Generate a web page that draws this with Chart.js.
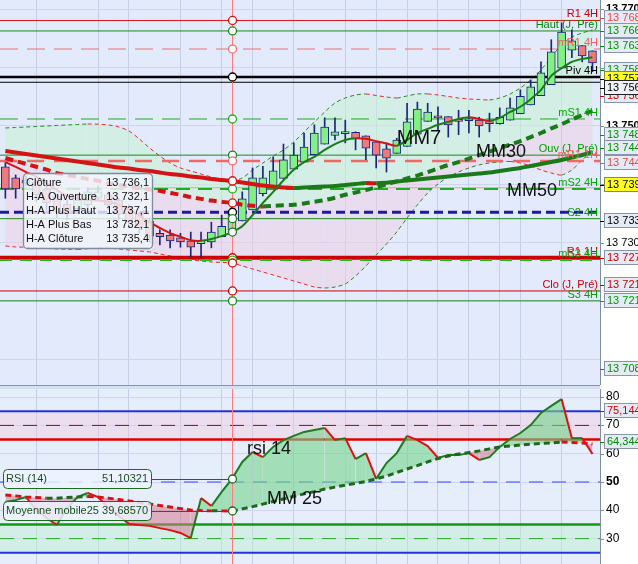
<!DOCTYPE html>
<html>
<head>
<meta charset="utf-8">
<script src="https://cdn.jsdelivr.net/npm/chart.js@4.4.0/dist/chart.umd.min.js"></script>
<style>
  body { margin: 0; background: #fff; width: 638px; height: 564px; overflow: hidden; position: relative; }
  #main { position: absolute; left: 0; top: 0; }
  #rsi { position: absolute; left: 0; top: 389px; }
  #gap { position: absolute; left: 0; top: 385px; width: 600px; height: 4px; background: #d6dff2;
         border-top: 1px solid #8795a8; box-sizing: border-box; }
</style>
</head>
<body>
<div id="gap"></div>
<canvas id="main" width="638" height="385"></canvas>
<canvas id="rsi" width="638" height="175"></canvas>
<script>
// ---- data (Heikin-Ashi candles, 4H) ----
const haOpen = [13743.0, 13741.1, 13740.2, 13740.4, 13739.2, 13738.0, 13736.6, 13735.8, 13736.5, 13737.6,
  13738.2, 13737.3, 13736.1, 13734.9, 13733.7, 13731.6, 13731.3, 13730.8, 13730.3, 13729.8,
  13730.1, 13731.0, 13732.1, 13733.7, 13735.6, 13738.4, 13739.7, 13741.0, 13742.6, 13743.8,
  13745.1, 13746.9, 13748.4, 13748.7, 13748.9, 13748.3, 13747.3, 13746.1, 13745.3, 13746.5,
  13748.6, 13750.8, 13751.6, 13751.6, 13750.9, 13750.9, 13751.0, 13750.5, 13750.4, 13751.0,
  13752.1, 13753.6, 13755.2, 13757.1, 13759.9, 13763.0, 13763.8, 13762.9];
const haHigh = [13743.7, 13741.6, 13741.4, 13740.7, 13739.7, 13738.3, 13737.3, 13738.2, 13739.4, 13739.7,
  13738.7, 13737.6, 13736.5, 13735.2, 13734.2, 13732.2, 13732.2, 13731.6, 13731.8, 13731.8,
  13733.5, 13734.7, 13737.1, 13738.7, 13742.8, 13743.1, 13744.7, 13746.9, 13747.1, 13748.8,
  13750.2, 13751.4, 13751.4, 13751.0, 13749.0, 13748.3, 13747.3, 13747.1, 13747.9, 13753.9,
  13754.1, 13753.9, 13753.3, 13751.6, 13752.7, 13752.7, 13751.5, 13752.2, 13753.1, 13754.8,
  13756.2, 13757.9, 13761.0, 13764.8, 13767.7, 13766.5, 13763.8, 13762.9];
const haLow = [13737.6, 13737.6, 13739.7, 13737.0, 13735.6, 13734.2, 13733.9, 13735.1, 13735.9, 13737.3,
  13735.6, 13733.9, 13732.5, 13731.6, 13730.1, 13729.6, 13729.1, 13729.2, 13727.5, 13727.4,
  13729.1, 13731.0, 13732.1, 13733.7, 13735.6, 13738.0, 13739.7, 13741.0, 13742.6, 13743.8,
  13745.1, 13746.9, 13747.6, 13747.1, 13745.9, 13744.2, 13742.8, 13742.1, 13745.3, 13746.5,
  13748.6, 13750.8, 13749.3, 13748.1, 13748.5, 13748.8, 13748.1, 13749.0, 13750.3, 13751.0,
  13752.1, 13753.6, 13755.2, 13757.1, 13759.9, 13761.7, 13761.0, 13759.3];
const haClose = [13739.2, 13739.2, 13740.7, 13738.2, 13736.8, 13735.2, 13734.9, 13737.3, 13738.7, 13738.7,
  13736.5, 13734.9, 13733.5, 13732.5, 13731.1, 13731.0, 13730.3, 13730.1, 13729.2, 13730.4,
  13731.8, 13732.8, 13735.4, 13737.5, 13741.1, 13741.1, 13742.3, 13744.2, 13745.0, 13746.4,
  13748.8, 13749.8, 13749.0, 13749.0, 13747.8, 13746.2, 13745.0, 13744.5, 13747.6, 13750.7,
  13752.9, 13752.4, 13751.4, 13750.2, 13750.8, 13751.2, 13750.0, 13750.4, 13751.5, 13753.1,
  13755.1, 13756.7, 13759.1, 13762.7, 13766.1, 13764.6, 13762.0, 13760.8];

const mm7 = [13743.8, 13743.0, 13742.1, 13741.3, 13740.2, 13739.0, 13738.0, 13737.5, 13737.3, 13737.2,
  13737.0, 13736.5, 13735.6, 13734.6, 13733.5, 13732.5, 13731.6, 13731.0, 13730.4, 13730.3,
  13730.6, 13731.1, 13731.8, 13732.8, 13734.7, 13736.8, 13738.7, 13740.7, 13742.5, 13743.8,
  13744.7, 13745.9, 13746.9, 13747.6, 13747.9, 13747.8, 13747.4, 13747.0, 13746.6, 13747.6,
  13748.8, 13749.5, 13750.2, 13750.7, 13751.2, 13751.5, 13751.2, 13750.9, 13751.4, 13752.4,
  13753.3, 13754.6, 13756.2, 13758.6, 13759.9, 13761.0, 13761.5, 13761.8];
const mm30 = [13744.5, 13744.0, 13743.5, 13743.0, 13742.5, 13741.9, 13741.6, 13741.3, 13740.9, 13740.6,
  13740.2, 13739.9, 13739.6, 13739.4, 13739.1, 13738.9, 13738.5, 13738.2, 13737.8, 13737.5,
  13737.2, 13737.0, 13736.8, 13736.5, 13736.3, 13736.2, 13736.3, 13736.4, 13736.5, 13736.7,
  13737.0, 13737.3, 13737.7, 13738.2, 13738.6, 13739.0, 13739.5, 13740.0, 13740.5, 13741.0,
  13741.5, 13742.1, 13742.7, 13743.3, 13743.8, 13744.4, 13745.0, 13745.6, 13746.2, 13746.8,
  13747.4, 13748.1, 13748.8, 13749.6, 13750.3, 13751.1, 13751.9, 13752.6];
const mm50 = [13745.71, 13745.45, 13745.20, 13744.94, 13744.68, 13744.43, 13744.17, 13743.91, 13743.65, 13743.40,
  13743.14, 13742.88, 13742.71, 13742.45, 13742.28, 13742.02, 13741.77, 13741.59, 13741.34, 13741.17,
  13740.91, 13740.74, 13740.57, 13740.31, 13740.05, 13739.79, 13739.62, 13739.45, 13739.37, 13739.45,
  13739.54, 13739.62, 13739.71, 13739.88, 13740.05, 13740.22, 13740.17, 13740.26, 13740.48, 13740.65,
  13740.82, 13740.99, 13741.17, 13741.34, 13741.51, 13741.68, 13741.85, 13742.02, 13742.28, 13742.54,
  13742.80, 13743.14, 13743.48, 13743.82, 13744.17, 13744.60, 13745.03, 13745.54];
const bbUp = [13749.66, 13749.74, 13749.83, 13749.91, 13750.00, 13750.09, 13750.17, 13750.26, 13750.34, 13750.30,
  13750.17, 13749.83, 13749.14, 13747.77, 13746.23, 13744.85, 13743.65, 13742.80, 13742.28, 13741.77,
  13741.25, 13740.82, 13740.57, 13741.08, 13742.45, 13743.65, 13744.85, 13745.88, 13747.26, 13748.97,
  13750.69, 13752.40, 13753.95, 13754.80, 13755.32, 13755.49, 13755.23, 13754.97, 13754.80, 13755.15,
  13755.49, 13755.50, 13755.32, 13755.06, 13754.80, 13754.63, 13754.55, 13754.46, 13754.80, 13755.49,
  13756.52, 13757.89, 13759.61, 13761.84, 13763.89, 13765.27, 13765.95, 13766.47];
const bbLow = [13729.42, 13729.25, 13729.20, 13729.07, 13729.00, 13728.90, 13728.85, 13728.82, 13728.95, 13729.07,
  13729.05, 13728.90, 13728.73, 13728.56, 13728.39, 13728.04, 13727.70, 13727.36, 13727.01, 13726.84,
  13726.67, 13726.59, 13726.50, 13725.99, 13725.47, 13724.96, 13724.44, 13723.93, 13723.41, 13722.90,
  13722.38, 13722.21, 13722.38, 13722.90, 13724.27, 13725.99, 13727.87, 13729.76, 13731.82, 13734.22,
  13736.45, 13738.51, 13740.05, 13741.25, 13742.11, 13742.80, 13743.31, 13743.65, 13743.82, 13743.91,
  13743.65, 13743.14, 13742.45, 13741.94, 13741.59, 13742.45, 13744.17, 13745.88];

const rsi14 = [42.9, 43.6, 44.7, 40.1, 37.3, 34.8, 40.8, 44.7, 46.1, 44.7,
  40.8, 38.0, 35.2, 34.8, 34.5, 33.7, 33.0, 32.0, 30.2, 44.3,
  41.5, 46.5, 51.10321, 57.1, 60.6, 58.8, 62.4, 64.8, 66.3, 67.7,
  68.4, 69.1, 64.8, 65.5, 58.1, 60.2, 51.1, 56.7, 60.2, 66.3,
  64.8, 62.7, 58.5, 59.5, 59.5, 60.2, 57.8, 58.8, 62.4, 65.2,
  67.3, 70.1, 74.4, 76.9, 79.3, 65.5, 65.5, 59.9];
const rsiMM25 = [45.4, 45.1, 44.7, 44.5, 44.3, 44.3, 44.5, 44.7, 44.9, 44.7,
  44.3, 43.8, 43.3, 42.8, 42.2, 41.7, 41.2, 40.6, 40.1, 39.9,
  39.8, 39.8, 39.6857, 40.5, 41.3, 42.2, 43.1, 44.0, 44.9, 45.8,
  46.6, 47.5, 48.2, 48.9, 49.5, 50.2, 51.1, 52.1, 53.4, 54.6,
  55.8, 57.1, 58.3, 59.2, 59.9, 60.4, 61.0, 61.7, 62.4, 62.7,
  63.1, 63.4, 63.6, 63.8, 64.1, 64.0, 63.8, 63.4];

const lastClose = 13736.1;
const crossIdx = 22;
const gridIdx = [3, 9, 12, 17, 21, 24, 28, 33, 36, 39, 42, 45, 48, 50, 54];
const priceGrid = [13770, 13760, 13750, 13740, 13730, 13720, 13710];
const priceTicks = [13770, 13760, 13750, 13740, 13730, 13720];
const rsiTicks = [80, 70, 60, 50, 40, 30];

// pivot levels
const levelNames = ['R1 4H', 'Haut (J, Pré)', 'mR1 4H', 'Piv 4H', '', 'mS1 4H', 'Ouv (J, Pré)', 'mR1 1H',
  '', 'mS2 4H', '', 'S2 4H', 'R1 1H', 'mS3 4H', 'Clo (J, Pré)', 'S3 4H'];
const levelValues = [13768.1, 13766.3, 13763.2, 13758.4, 13757.5, 13751.2, 13745.0, 13744.0,
  13739.4, 13739.2, 13735.2, 13734.1, 13727.4, 13727.0, 13721.7, 13720.0];

// price boxes on the right axis
const boxText = ['13 768', '13 766', '13 763', '13 758', '13 757', '13 756', '13 756', '13 748',
  '13 744', '13 744', '13 739', '13 733', '13 727', '13 721', '13 721', '13 708'];
const boxAt = [13768.6, 13766.3, 13763.8, 13759.6, 13758.1, 13755.1, 13756.5, 13748.5,
  13746.2, 13743.7, 13739.9, 13733.7, 13727.4, 13722.8, 13720.0, 13708.3];

const rsiLevels = [75, 70, 65, 50, 35, 30, 25];
const rsiBoxText = ['75,144', '64,344'];
const rsiBoxAt = [75.1, 64.3];

// ---- styles ----
const FONT = '"Liberation Sans", Arial, sans-serif';
const GREEN = '#1f7a1f', RED = '#d41414';
const levelColor = ['#dd1111', '#1a8a1a', '#f07070', '#000', '#000', '#22aa22', '#1a8a1a', '#f06868',
  '#f29a9a', '#22aa22', '#1a1aa8', '#1a8a1a', '#cc0000', '#22bb22', '#cc0000', '#1a8a1a'];
const levelWidth = [1, 1, 1, 2.5, 1, 1, 1, 2.5, 1, 2, 3, 1, 4, 2, 1, 1];
const levelDash = [[], [], [18, 9], [], [], [18, 9], [], [17, 10], [], [14, 8], [9, 5], [], [], [12, 8], [], []];
const levelText = ['#cc0000', '#008800', '#f06060', '#000', '', '#00aa00', '#00a000', '#f06060',
  '', '#00aa00', '', '#00a000', '#cc0000', '#00aa00', '#cc0000', '#00a000'];
const boxColor = ['#e84848', '#009000', '#009000', '#009000', '#000', '#d00000', '#000', '#009000',
  '#009000', '#e84848', '#000', '#000', '#d00000', '#d00000', '#00a000', '#009000'];
const rsiLevelColor = ['#2233dd', '#aa0000', '#dd0000', '#3344ff', '#119911', '#22aa22', '#2233dd'];
const rsiLevelWidth = [2, 1, 2.5, 1, 2.5, 1, 2];
const rsiLevelDash = [[], [14, 9], [], [14, 9], [], [14, 9], []];

const xMin = -0.52, xMax = 57.73;
const pts = arr => arr.map((v, i) => ({ x: i, y: v }));
const seg = (g, r) => ({ borderColor: c => (c.p1.parsed.y >= c.p0.parsed.y ? g : r) });
const dirColor = (arr, i) => (arr[i] >= arr[i - 1] ? GREEN : RED);
const fmt = (v, d) => {
  let [a, b] = v.toFixed(d).split('.');
  a = a.replace(/\B(?=(\d{3})+(?!\d))/g, ' ');
  return b ? a + ',' + b : a;
};

function xAxis() {
  return {
    type: 'linear', min: xMin, max: xMax, offset: false,
    ticks: { display: false },
    grid: { color: '#c4cee4', drawTicks: false, offset: false },
    border: { display: false },
    afterBuildTicks: s => { s.ticks = gridIdx.map(v => ({ value: v })); },
    afterFit: s => { s.height = 0; }
  };
}
function yAxis(min, max, ticks) {
  return {
    position: 'right', min, max,
    ticks: { display: false },
    grid: { color: '#cdd6ea', drawTicks: false },
    border: { display: true, color: '#7f8ea0' },
    afterBuildTicks: s => { s.ticks = ticks.map(v => ({ value: v })); },
    afterFit: s => { s.width = 38; }
  };
}
function circle(ctx, x, y, color) {
  ctx.beginPath();
  ctx.arc(x, y, 4, 0, Math.PI * 2);
  ctx.fillStyle = '#fff';
  ctx.fill();
  ctx.lineWidth = 1.3;
  ctx.strokeStyle = color;
  ctx.stroke();
}
function roundBox(ctx, x, y, w, h, r) {
  ctx.beginPath();
  ctx.roundRect(x, y, w, h, r);
}
function axisBox(ctx, y, text, color, fill, stroke) {
  const yy = Math.round(y);
  ctx.fillStyle = fill;
  ctx.fillRect(604.5, yy - 7.5, 40, 14);
  ctx.strokeStyle = stroke;
  ctx.lineWidth = 1;
  ctx.strokeRect(604.5, yy - 7.5, 40, 14);
  ctx.beginPath();
  ctx.moveTo(600, yy + 0.5);
  ctx.lineTo(604, yy + 0.5);
  ctx.strokeStyle = color;
  ctx.stroke();
  ctx.fillStyle = color;
  ctx.textAlign = 'left';
  ctx.textBaseline = 'middle';
  ctx.font = '11px ' + FONT;
  ctx.fillText(text, 607, yy);
}

// ---- main chart ----
const mainSets = [
  { label: 'MM30', data: pts(mm30), borderWidth: 4, borderDash: [8, 5], segment: seg('#1a7a1a', '#d41414'),
    pointRadius: 0, tension: 0.3, order: 30 },
  { label: 'BB haut', data: pts(bbUp), borderWidth: 1, borderDash: [4, 3], segment: seg('#2a8a2a', '#e03030'),
    pointRadius: 0, tension: 0.3, order: 100,
    fill: { target: 0, above: 'rgba(200,240,215,0.6)', below: 'rgba(200,240,215,0.6)' } },
  { label: 'BB bas', data: pts(bbLow), borderWidth: 1, borderDash: [4, 3], segment: seg('#2a8a2a', '#e03030'),
    pointRadius: 0, tension: 0.3, order: 99,
    fill: { target: 0, above: 'rgba(242,205,228,0.5)', below: 'rgba(242,205,228,0.5)' } },
  { label: 'MM50', data: pts(mm50), borderWidth: 4, segment: seg('#1a7a1a', '#d41414'),
    pointRadius: 0, tension: 0.3, order: 20 },
  { label: 'MM7', data: pts(mm7), borderWidth: 2, segment: seg('#1a7a1a', '#d41414'),
    pointRadius: 0, tension: 0.3, order: 10 },
  { type: 'bar', label: 'mèches', data: haLow.map((l, i) => ({ x: i, y: [l, haHigh[i]] })),
    backgroundColor: '#1c2580', barThickness: 1, grouped: false, order: 50 },
  { type: 'bar', label: 'H-A', data: haOpen.map((o, i) => ({ x: i, y: [o, haClose[i]] })),
    backgroundColor: c => (haClose[c.dataIndex] >= haOpen[c.dataIndex] ? '#84f084' : '#f07a7a'),
    borderColor: '#1c2580', borderWidth: 1, borderSkipped: false, barThickness: 8, minBarLength: 2,
    grouped: false, order: 40 }
];
levelValues.forEach((v, i) => {
  mainSets.push({ label: levelNames[i], data: [{ x: xMin, y: v }, { x: xMax, y: v }],
    borderColor: levelColor[i], borderWidth: levelWidth[i], borderDash: levelDash[i],
    pointRadius: 0, order: 90 - i });
});

const mainOverlay = {
  id: 'mainOverlay',
  beforeDraw(c) {
    const { ctx, chartArea: a } = c;
    ctx.save();
    ctx.fillStyle = '#e2eafb';
    ctx.fillRect(a.left, a.top, a.width, a.height);
    ctx.restore();
  },
  afterDraw(c) {
    const { ctx, chartArea: a, scales: { x, y } } = c;
    ctx.save();
    ctx.font = '11px ' + FONT;
    // level names
    ctx.textAlign = 'right';
    ctx.textBaseline = 'alphabetic';
    levelValues.forEach((v, i) => {
      if (!levelNames[i]) return;
      ctx.fillStyle = levelText[i];
      ctx.fillText(levelNames[i], a.right - 2, Math.round(y.getPixelForValue(v)) - 3);
    });
    // indicator names
    ctx.fillStyle = '#111';
    ctx.textAlign = 'left';
    ctx.font = '20px ' + FONT;
    ctx.fillText('MM7', x.getPixelForValue(38.0), y.getPixelForValue(13746.9));
    ctx.font = '18px ' + FONT;
    ctx.fillText('MM30', x.getPixelForValue(45.7), y.getPixelForValue(13744.7));
    ctx.fillText('MM50', x.getPixelForValue(48.7), y.getPixelForValue(13738.0));
    // axis ticks
    ctx.textBaseline = 'middle';
    priceTicks.forEach(v => {
      const py = Math.round(y.getPixelForValue(v));
      ctx.strokeStyle = '#7f8ea0';
      ctx.lineWidth = 1;
      ctx.beginPath(); ctx.moveTo(600, py + 0.5); ctx.lineTo(604, py + 0.5); ctx.stroke();
      ctx.fillStyle = '#000';
      ctx.font = (v === 13750 || v === 13770 ? 'bold ' : '') + '11px ' + FONT;
      ctx.fillText(fmt(v, 0), 606, py);
    });
    // price boxes
    boxText.forEach((t, i) => {
      let fill = '#e4ebf5', stroke = '#8796a8';
      if (t === '13 757' || t === '13 739') { fill = '#ffff22'; stroke = '#8a8a40'; }
      if (i === 6) { fill = '#eef2f8'; stroke = '#222'; }
      axisBox(ctx, y.getPixelForValue(boxAt[i]), t, boxColor[i], fill, stroke);
    });
    // crosshair
    const cx = Math.round(x.getPixelForValue(crossIdx)) + 0.5;
    ctx.strokeStyle = '#ff7c7c';
    ctx.lineWidth = 1;
    ctx.setLineDash([]);
    ctx.beginPath(); ctx.moveTo(cx, a.top); ctx.lineTo(cx, a.bottom); ctx.stroke();
    levelValues.forEach((v, i) => {
      if (i === 4 || i === 8) return;
      circle(ctx, cx, y.getPixelForValue(v), levelColor[i] === '#1a1aa8' ? '#000' : levelColor[i]);
    });
    [mm7, mm30, mm50, bbUp, bbLow].forEach(arr => {
      circle(ctx, cx, y.getPixelForValue(arr[crossIdx]), dirColor(arr, crossIdx));
    });
    // info box
    const rows = ['Clôture', 'H-A Ouverture', 'H-A Plus Haut', 'H-A Plus Bas', 'H-A Clôture'];
    const vals = [lastClose, haOpen[crossIdx], haHigh[crossIdx], haLow[crossIdx], haClose[crossIdx]];
    roundBox(ctx, 23.5, 173.5, 129, 75, 4);
    ctx.fillStyle = 'rgba(242,246,253,0.82)';
    ctx.fill();
    ctx.strokeStyle = '#7f8c9c';
    ctx.stroke();
    ctx.font = '11px ' + FONT;
    ctx.fillStyle = '#111';
    rows.forEach((r, i) => {
      const ry = 183 + i * 14;
      ctx.textAlign = 'left';
      ctx.fillText(r, 26, ry);
      ctx.textAlign = 'right';
      ctx.fillText(fmt(vals[i], 1), 149, ry);
    });
    ctx.restore();
  }
};

new Chart(document.getElementById('main'), {
  type: 'line',
  data: { datasets: mainSets },
  options: {
    responsive: false, animation: false, events: [],
    layout: { padding: 0 },
    plugins: { legend: { display: false }, tooltip: { enabled: false } },
    scales: { x: xAxis(), y: yAxis(13705.57, 13771.61, priceGrid) }
  },
  plugins: [mainOverlay]
});

// ---- RSI panel ----
const rsiSets = [
  { label: 'RSI (14)', data: pts(rsi14), borderWidth: 2, segment: seg('#1f7a1f', '#dd1111'),
    pointRadius: 0, tension: 0, order: 10,
    fill: { target: 1, above: 'rgba(120,212,140,0.62)', below: 'rgba(214,122,142,0.55)' } },
  { label: 'MM 25', data: pts(rsiMM25), borderWidth: 3, borderDash: [6, 4], segment: seg('#1a6a1a', '#d41414'),
    pointRadius: 0, tension: 0, order: 5 }
];
rsiLevels.forEach((v, i) => {
  rsiSets.push({ label: 'niveau ' + v, data: [{ x: xMin, y: v }, { x: xMax, y: v }],
    borderColor: rsiLevelColor[i], borderWidth: rsiLevelWidth[i], borderDash: rsiLevelDash[i],
    pointRadius: 0, order: 50 + i });
});

const rsiOverlay = {
  id: 'rsiOverlay',
  beforeDraw(c) {
    const { ctx, chartArea: a } = c;
    ctx.save();
    ctx.fillStyle = '#e6eefc';
    ctx.fillRect(a.left, a.top, a.width, a.height);
    ctx.restore();
  },
  beforeDatasetsDraw(c) {
    const { ctx, chartArea: a, scales: { y } } = c;
    ctx.save();
    ctx.fillStyle = 'rgba(240,200,222,0.42)';
    ctx.fillRect(a.left, y.getPixelForValue(75), a.width, y.getPixelForValue(65) - y.getPixelForValue(75));
    ctx.fillStyle = 'rgba(190,238,210,0.5)';
    ctx.fillRect(a.left, y.getPixelForValue(35), a.width, y.getPixelForValue(25) - y.getPixelForValue(35));
    ctx.restore();
  },
  afterDraw(c) {
    const { ctx, chartArea: a, scales: { x, y } } = c;
    ctx.save();
    ctx.textBaseline = 'middle';
    rsiTicks.forEach(v => {
      const py = Math.round(y.getPixelForValue(v));
      ctx.strokeStyle = '#7f8ea0';
      ctx.lineWidth = 1;
      ctx.beginPath(); ctx.moveTo(600, py + 0.5); ctx.lineTo(604, py + 0.5); ctx.stroke();
      ctx.fillStyle = '#000';
      ctx.font = (v === 50 ? 'bold 12px ' : '12px ') + FONT;
      ctx.fillText(String(v), 606, py);
    });
    rsiBoxText.forEach((t, i) => {
      axisBox(ctx, y.getPixelForValue(rsiBoxAt[i]), t, i === 0 ? '#d00000' : '#008800', '#e4ebf5', '#8796a8');
    });
    // indicator names
    ctx.fillStyle = '#111';
    ctx.textAlign = 'left';
    ctx.textBaseline = 'alphabetic';
    ctx.font = '18px ' + FONT;
    ctx.fillText('rsi 14', x.getPixelForValue(23.45), y.getPixelForValue(59.9));
    ctx.fillText('MM 25', x.getPixelForValue(25.4), y.getPixelForValue(42.2));
    // crosshair
    const cx = Math.round(x.getPixelForValue(crossIdx)) + 0.5;
    ctx.strokeStyle = '#ff7c7c';
    ctx.lineWidth = 1;
    ctx.beginPath(); ctx.moveTo(cx, a.top); ctx.lineTo(cx, a.bottom); ctx.stroke();
    // value boxes
    const items = [['RSI (14)', rsi14[crossIdx]], ['Moyenne mobile25', rsiMM25[crossIdx]]];
    items.forEach(([name, v]) => {
      const py = Math.round(y.getPixelForValue(v));
      ctx.strokeStyle = '#1e6b1e';
      ctx.lineWidth = 1;
      ctx.beginPath(); ctx.moveTo(152, py + 0.5); ctx.lineTo(cx - 4, py + 0.5); ctx.stroke();
      roundBox(ctx, 3.5, py - 9.5, 148, 19, 4);
      ctx.fillStyle = 'rgba(236,242,255,0.85)';
      ctx.fill();
      ctx.stroke();
      ctx.fillStyle = '#1a4d1a';
      ctx.font = '11px ' + FONT;
      ctx.textBaseline = 'middle';
      ctx.textAlign = 'left';
      ctx.fillText(name, 6, py);
      ctx.textAlign = 'right';
      ctx.fillText(fmt(v, 5), 148, py);
      circle(ctx, cx, py, '#1e6b1e');
    });
    ctx.restore();
  }
};

new Chart(document.getElementById('rsi'), {
  type: 'line',
  data: { datasets: rsiSets },
  options: {
    responsive: false, animation: false, events: [],
    layout: { padding: 0 },
    plugins: { legend: { display: false }, tooltip: { enabled: false } },
    scales: { x: xAxis(), y: yAxis(21.03, 82.86, rsiTicks) }
  },
  plugins: [rsiOverlay]
});
</script>
</body>
</html>
